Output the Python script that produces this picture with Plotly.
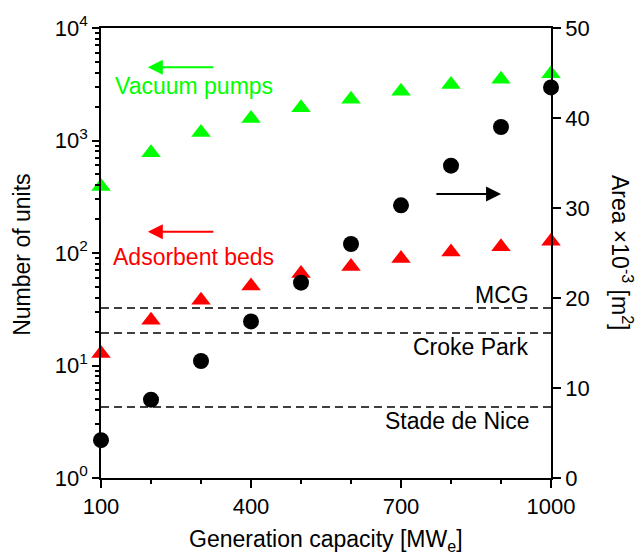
import plotly.graph_objects as go

# ---- data ----
capacity = [100, 200, 300, 400, 500, 600, 700, 800, 900, 1000]
vacuum_pumps = [390, 780, 1180, 1570, 1950, 2330, 2740, 3140, 3500, 3930]
adsorbent_beds = [12.8, 25.3, 38.1, 51, 65.6, 76, 89.2, 102, 113.5, 127]
area_k = [4.2, 8.7, 13.0, 17.4, 21.7, 26.0, 30.3, 34.7, 39.0, 43.4]

stadium_names = ["MCG", "Croke Park", "Stade de Nice"]
stadium_area_k = [18.9, 16.1, 7.9]

left_tickvals = [1, 10, 100, 1000, 10000]
left_ticktext = ["10<sup>0</sup>", "10<sup>1</sup>", "10<sup>2</sup>", "10<sup>3</sup>", "10<sup>4</sup>"]
left_minor = [m * 10 ** e for e in range(4) for m in range(2, 10)]
x_tickvals = [100, 400, 700, 1000]
x_minor = [200, 300, 500, 600, 800, 900]
right_tickvals = [0, 10, 20, 30, 40, 50]

GREEN = "#00FF00"
RED = "#FF0000"
FONT = "Liberation Sans, Arial, sans-serif"
FS = 23
TFS = 22

fig = go.Figure()
fig.add_trace(go.Scatter(x=capacity, y=vacuum_pumps, mode="markers", yaxis="y",
                         marker=dict(symbol="triangle-up", size=17, color=GREEN),
                         cliponaxis=False, showlegend=False))
fig.add_trace(go.Scatter(x=capacity, y=adsorbent_beds, mode="markers", yaxis="y",
                         marker=dict(symbol="triangle-up", size=17, color=RED),
                         cliponaxis=False, showlegend=False))
fig.add_trace(go.Scatter(x=capacity, y=area_k, mode="markers", yaxis="y2",
                         marker=dict(symbol="circle", size=16, color="black"),
                         cliponaxis=False, showlegend=False))

shapes = []
for v in stadium_area_k:
    shapes.append(dict(type="line", xref="x", yref="y2", x0=capacity[0], x1=capacity[-1],
                       y0=v, y1=v, line=dict(color="black", width=1.5, dash="8px,5px"),
                       layer="below"))

ann = []
label_y = [0.407, 0.291, 0.127]
for name, yy in zip(stadium_names, label_y):
    ann.append(dict(text=name, xref="paper", yref="paper", x=0.956, y=yy,
                    xanchor="right", yanchor="middle", showarrow=False,
                    font=dict(family=FONT, size=FS, color="black")))

# series labels
ann.append(dict(text="Vacuum pumps", xref="paper", yref="paper", x=0.026, y=0.871,
                xanchor="left", yanchor="middle", showarrow=False,
                font=dict(family=FONT, size=FS, color=GREEN)))
ann.append(dict(text="Adsorbent beds", xref="paper", yref="paper", x=0.022, y=0.491,
                xanchor="left", yanchor="middle", showarrow=False,
                font=dict(family=FONT, size=FS, color=RED)))

# arrows
def arrow(x_head, x_tail, ypaper, color):
    return dict(text="", xref="paper", yref="paper", axref="pixel", ayref="pixel",
                x=x_head, y=ypaper, ax=(x_tail - x_head) * 450, ay=0,
                showarrow=True, arrowhead=2, arrowsize=1.5, arrowwidth=2,
                arrowcolor=color)

ann.append(arrow(0.104, 0.253, 0.913, GREEN))
ann.append(arrow(0.104, 0.253, 0.547, RED))
ann.append(arrow(0.889, 0.742, 0.631, "black"))

# axis titles
ann.append(dict(text="Generation capacity [MW<sub>e</sub>]", xref="paper", yref="paper",
                x=0.5, y=-0.138, xanchor="center", yanchor="middle", showarrow=False,
                font=dict(family=FONT, size=FS, color="black")))
ann.append(dict(text="Number of units", xref="paper", yref="paper", textangle=-90,
                x=-0.1756, y=0.496, xanchor="center", yanchor="middle", showarrow=False,
                font=dict(family=FONT, size=FS, color="black")))
ann.append(dict(text="Area ×10<sup>-3</sup> [m<sup>2</sup>]", xref="paper", yref="paper",
                textangle=90, x=1.158, y=0.5, xanchor="center", yanchor="middle",
                showarrow=False, font=dict(family=FONT, size=FS, color="black")))

axis_common = dict(showline=True, linecolor="black", linewidth=1.5, ticks="outside",
                   tickcolor="black", tickwidth=1.5, showgrid=False, zeroline=False,
                   tickfont=dict(family=FONT, size=TFS, color="black"))

fig.update_layout(
    width=638, height=559,
    margin=dict(l=101, r=87, t=28, b=81),
    paper_bgcolor="white", plot_bgcolor="white",
    shapes=shapes, annotations=ann,
    xaxis=dict(range=[100, 1000], tickmode="array", tickvals=x_tickvals, ticklen=8,
               mirror=True,
               minor=dict(tickmode="array", tickvals=x_minor, ticks="outside", ticklen=4,
                          tickcolor="black", tickwidth=1.5, showgrid=False),
               **axis_common),
    yaxis=dict(type="log", range=[0, 4], tickmode="array", tickvals=left_tickvals,
               ticktext=left_ticktext, ticklen=7,
               minor=dict(tickmode="array", tickvals=left_minor, ticks="outside", ticklen=4,
                          tickcolor="black", tickwidth=1.5, showgrid=False),
               **axis_common),
    yaxis2=dict(overlaying="y", side="right", anchor="x", range=[0, 50], tickmode="array",
                tickvals=right_tickvals, ticklen=8, **axis_common),
)

fig.write_html("out.html")
